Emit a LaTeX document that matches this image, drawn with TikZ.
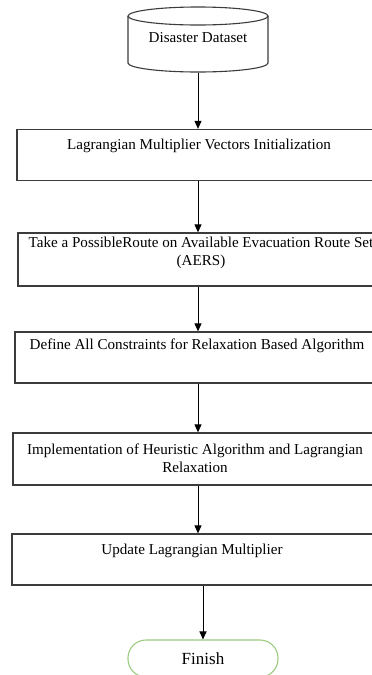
\documentclass[tikz,border=0pt]{standalone}
\usepackage{fontspec}
\setmainfont{Liberation Serif}
\usetikzlibrary{arrows.meta,calc}
\definecolor{boxgray}{HTML}{3C3C3C}
\definecolor{fingreen}{HTML}{9BCB7E}
\tikzset{
  procbox/.style={draw=boxgray, line width=1.3pt, minimum width=#1, minimum height=0pt, inner sep=0pt},
  boxtext/.style={font=\fontsize{15.1}{18}\selectfont, align=center, inner sep=0pt},
  arr/.style={draw=black, line width=1pt, -{Triangle[width=7pt,length=8pt]}},
}
\begin{document}
\begin{tikzpicture}[x=1pt,y=-1pt]
\useasboundingbox (0,0) rectangle (372,675);
\clip (0,0) rectangle (372,675);
% cylinder
\node[minimum width=140pt, minimum height=65pt, inner sep=0pt] (cyl) at (198,40) {};
\draw[boxgray, line width=1.1pt, fill=white]
  (128,16) -- (128,63) arc[start angle=180, end angle=360, x radius=70, y radius=-9] -- (268,16);
\draw[boxgray, line width=1.1pt] (198,16) ellipse[x radius=70, y radius=9];
\node[boxtext] (cyltext) at (198,38) {Disaster Dataset};
% boxes
\node[procbox=362pt, minimum height=51pt] (b1) at (198,155) {};
\node[boxtext] (t1) at (199,146) {Lagrangian Multiplier Vectors Initialization};
\node[procbox=360pt, minimum height=53pt] (b2) at (198,259.5) {};
\node[boxtext] (t2) at (201,253) {Take a PossibleRoute on Available Evacuation Route Set\\(AERS)};
\node[procbox=366pt, minimum height=51pt] (b3) at (198,357.5) {};
\node[boxtext] (t3) at (197,346) {Define All Constraints for Relaxation Based Algorithm};
\node[procbox=370pt, minimum height=52pt] (b4) at (198,459) {};
\node[boxtext] (t4) at (195,458) {Implementation of Heuristic Algorithm and Lagrangian\\Relaxation};
\node[procbox=372pt, minimum height=51pt] (b5) at (198,559.5) {};
\node[boxtext] (t5) at (192,551) {Update Lagrangian Multiplier};
% finish
\node[draw=fingreen, line width=1.1pt, rounded corners=18pt, minimum width=150pt, minimum height=37pt, inner sep=0pt,
      font=\fontsize{17}{20}\selectfont] (fin) at (203,658.5) {Finish};
% connectors
\draw[arr] (cyl.south) -- (b1.north);
\draw[arr] (b1.south) -- (b2.north);
\draw[arr] (b2.south) -- (b3.north);
\draw[arr] (b3.south) -- (b4.north);
\draw[arr] (b4.south) -- (b5.north);
\draw[arr] (b5.south -| fin.north) -- (fin.north);
\end{tikzpicture}
\end{document}
